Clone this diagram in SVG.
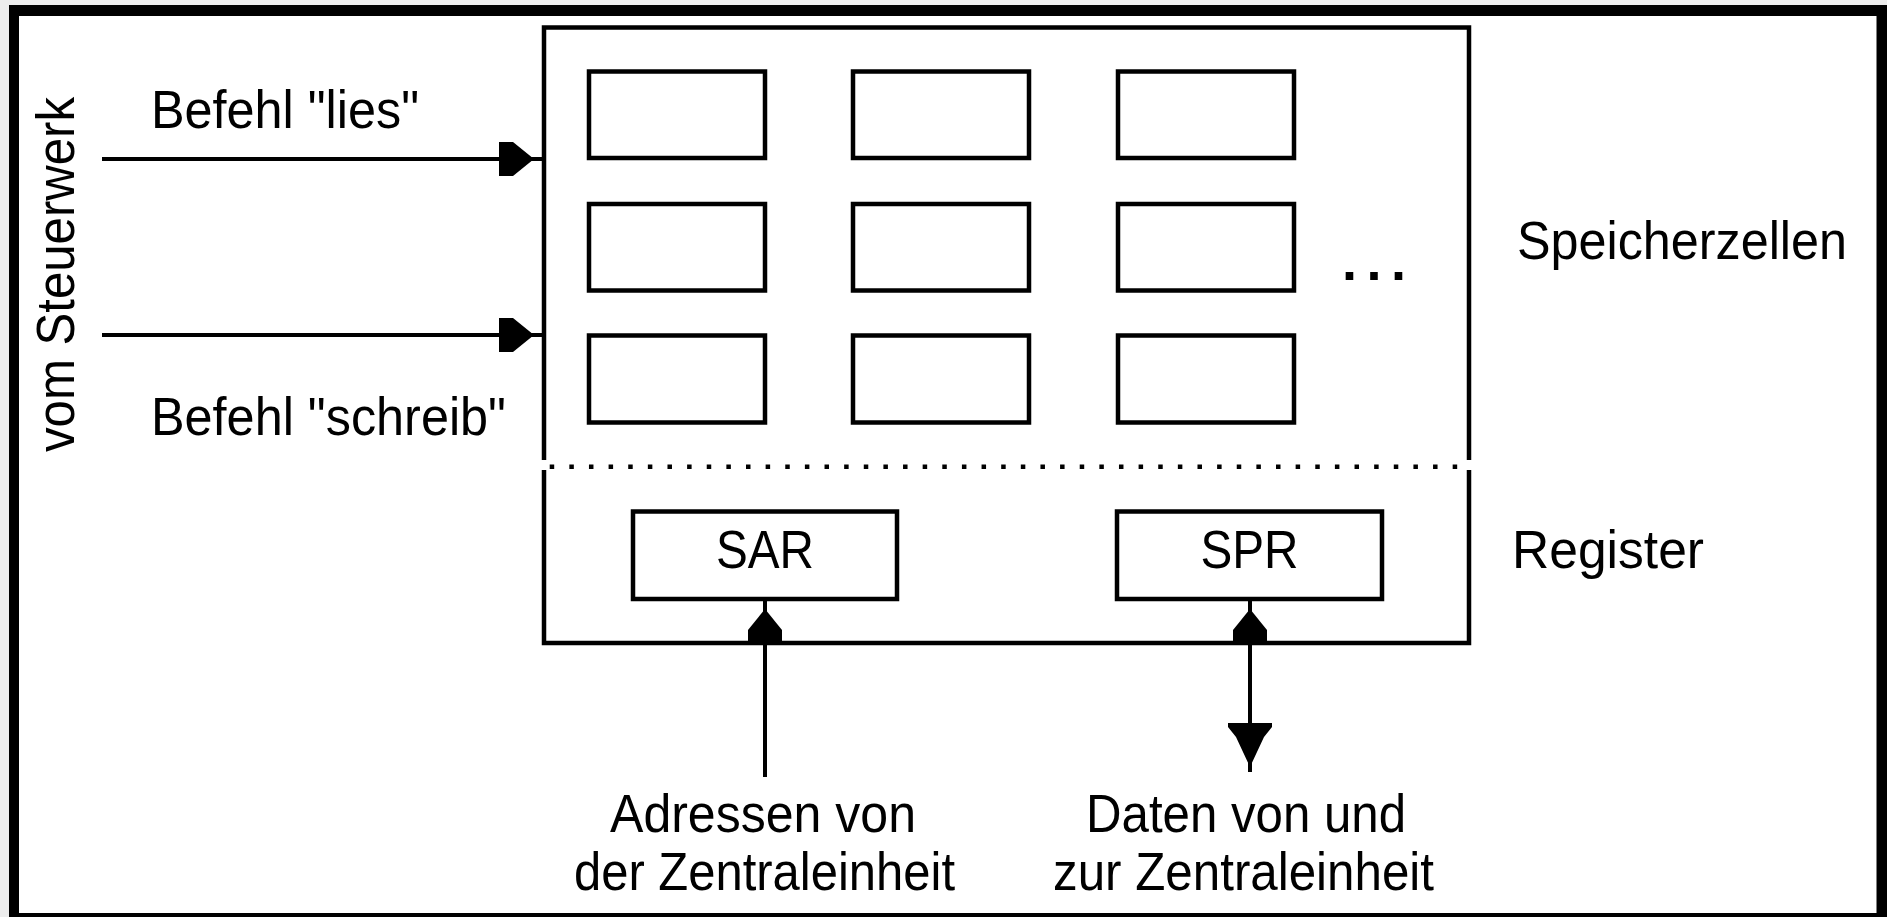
<svg xmlns="http://www.w3.org/2000/svg" width="1887" height="917" viewBox="0 0 1887 917">
  <style>
    .t { font-family: "Liberation Sans", Arial, sans-serif; font-size: 54px; fill: #000; }
    .mid { text-anchor: middle; }
    .box { fill: #fff; stroke: #000; stroke-width: 4.5; }
    .wire { stroke: #000; stroke-width: 4; fill: none; }
    .head { fill: #000; stroke: none; }
  </style>
  <defs>
    <!-- filled arrowhead, tip at the origin, pointing right -->
    <path id="head" d="M0,0 L-21,-17 L-35,-17 L-35,17 L-21,17 Z"/>
  </defs>

  <!-- frame -->
  <rect x="0" y="0" width="1887" height="917" fill="#ededed"/>
  <rect x="9" y="5" width="1878" height="912" fill="#000"/>
  <rect x="19" y="16" width="1857.5" height="897" fill="#fff"/>

  <!-- memory unit: outer box split by a dotted line -->
  <g id="memory">
    <path d="M544,460 V27.5 H1469 V460 M544,470 V643 H1469 V470" fill="none" stroke="#000" stroke-width="4.5"/>
    <line x1="549.7" y1="466.7" x2="1460" y2="466.7" stroke="#000" stroke-width="4.5" stroke-dasharray="4.5 15.13"/>
  </g>

  <!-- memory cells -->
  <g id="cells">
    <rect class="box" x="589" y="71.5" width="176" height="86.5"/>
    <rect class="box" x="853" y="71.5" width="176" height="86.5"/>
    <rect class="box" x="1118" y="71.5" width="176" height="86.5"/>
    <rect class="box" x="589" y="204" width="176" height="86.5"/>
    <rect class="box" x="853" y="204" width="176" height="86.5"/>
    <rect class="box" x="1118" y="204" width="176" height="86.5"/>
    <rect class="box" x="589" y="335.5" width="176" height="87"/>
    <rect class="box" x="853" y="335.5" width="176" height="87"/>
    <rect class="box" x="1118" y="335.5" width="176" height="87"/>
    <text class="t" x="1342 1366.5 1391" y="280" font-size="88" font-weight="bold">...</text>
  </g>

  <!-- registers -->
  <g id="sar">
    <rect class="box" x="633" y="511.5" width="264" height="87.5"/>
    <text class="t mid" x="765" y="568" textLength="98" lengthAdjust="spacingAndGlyphs">SAR</text>
  </g>
  <g id="spr">
    <rect class="box" x="1117" y="511.5" width="265" height="87.5"/>
    <text class="t mid" x="1249.5" y="568" textLength="98" lengthAdjust="spacingAndGlyphs">SPR</text>
  </g>

  <!-- connectors -->
  <g id="connectors">
    <line class="wire" x1="102" y1="159" x2="544" y2="159"/>
    <use href="#head" class="head" transform="translate(534 159)"/>
    <line class="wire" x1="102" y1="335" x2="544" y2="335"/>
    <use href="#head" class="head" transform="translate(534 335)"/>
    <line class="wire" x1="765" y1="599" x2="765" y2="777"/>
    <use href="#head" class="head" transform="translate(765 609) rotate(-90)"/>
    <line class="wire" x1="1250" y1="599" x2="1250" y2="772"/>
    <use href="#head" class="head" transform="translate(1250 609) rotate(-90)"/>
    <path class="head" d="M1228,723 H1272 V727 L1264,737 L1250,767 L1236,737 L1228,727 Z"/>
  </g>

  <!-- labels -->
  <g id="labels">
    <text class="t" x="74" y="452" transform="rotate(-90 74 452)" textLength="355" lengthAdjust="spacingAndGlyphs">vom Steuerwerk</text>
    <text class="t" x="151" y="128" textLength="268" lengthAdjust="spacingAndGlyphs">Befehl "lies"</text>
    <text class="t" x="151" y="435" textLength="355" lengthAdjust="spacingAndGlyphs">Befehl "schreib"</text>
    <text class="t" x="1517" y="259" textLength="330" lengthAdjust="spacingAndGlyphs">Speicherzellen</text>
    <text class="t" x="1512" y="568" textLength="192" lengthAdjust="spacingAndGlyphs">Register</text>
    <text class="t mid" x="763" y="832" textLength="306" lengthAdjust="spacingAndGlyphs">Adressen von</text>
    <text class="t mid" x="764.5" y="890" textLength="381" lengthAdjust="spacingAndGlyphs">der Zentraleinheit</text>
    <text class="t mid" x="1246" y="832" textLength="320" lengthAdjust="spacingAndGlyphs">Daten von und</text>
    <text class="t mid" x="1243.5" y="890" textLength="381" lengthAdjust="spacingAndGlyphs">zur Zentraleinheit</text>
  </g>
</svg>
